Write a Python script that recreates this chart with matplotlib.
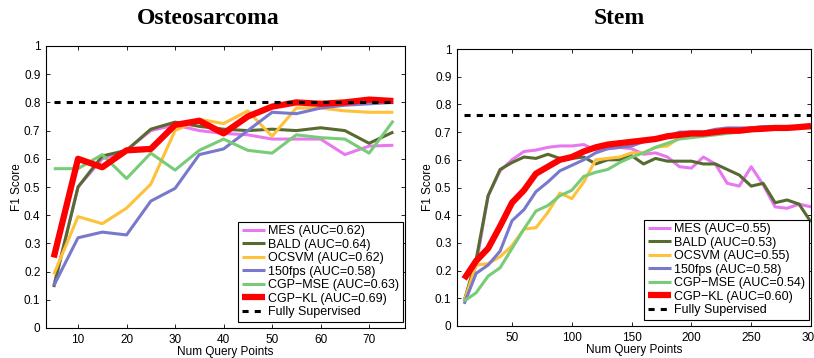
import numpy as np
import matplotlib
matplotlib.use("Agg")
import matplotlib.pyplot as plt

plt.rcParams['font.family'] = ['Liberation Sans', 'DejaVu Sans']

# ---- data ----
x_osteo = [5, 10, 15, 20, 25, 30, 35, 40, 45, 50, 55, 60, 65, 70, 75]
osteo = {
    'MES': [0.15, 0.50, 0.60, 0.63, 0.70, 0.72, 0.70, 0.69, 0.685, 0.67, 0.67, 0.67, 0.615, 0.645, 0.648],
    'BALD': [0.145, 0.50, 0.61, 0.63, 0.705, 0.73, 0.715, 0.705, 0.70, 0.705, 0.70, 0.71, 0.70, 0.655, 0.695],
    'OCSVM': [0.19, 0.395, 0.37, 0.425, 0.51, 0.70, 0.74, 0.725, 0.77, 0.68, 0.78, 0.78, 0.77, 0.765, 0.765],
    '150fps': [0.15, 0.32, 0.34, 0.33, 0.45, 0.495, 0.615, 0.635, 0.70, 0.765, 0.76, 0.78, 0.79, 0.795, 0.80],
    'CGP-MSE': [0.565, 0.565, 0.615, 0.53, 0.62, 0.56, 0.63, 0.67, 0.63, 0.62, 0.685, 0.675, 0.67, 0.62, 0.735],
    'CGP-KL': [0.25, 0.60, 0.57, 0.63, 0.635, 0.72, 0.735, 0.69, 0.75, 0.785, 0.80, 0.795, 0.80, 0.81, 0.805],
}
osteo_auc = {'MES': 0.62, 'BALD': 0.64, 'OCSVM': 0.62, '150fps': 0.58, 'CGP-MSE': 0.63, 'CGP-KL': 0.69}
osteo_full = 0.80

x_stem = list(range(10, 301, 10))
stem = {
    'MES': [0.09, 0.22, 0.47, 0.56, 0.60, 0.63, 0.635, 0.645, 0.65, 0.65, 0.655, 0.635, 0.64, 0.645, 0.64,
            0.62, 0.625, 0.61, 0.575, 0.57, 0.61, 0.585, 0.515, 0.505, 0.575, 0.51, 0.43, 0.425, 0.44, 0.43],
    'BALD': [0.09, 0.24, 0.47, 0.565, 0.59, 0.61, 0.605, 0.62, 0.605, 0.605, 0.61, 0.585, 0.60, 0.60, 0.615,
             0.585, 0.605, 0.595, 0.595, 0.595, 0.585, 0.585, 0.565, 0.545, 0.505, 0.515, 0.445, 0.455, 0.44, 0.375],
    'OCSVM': [0.09, 0.22, 0.225, 0.25, 0.29, 0.35, 0.355, 0.41, 0.48, 0.46, 0.52, 0.60, 0.605, 0.61, 0.625,
              0.625, 0.645, 0.65, 0.68, 0.69, 0.695, 0.705, 0.71, 0.71, 0.715, 0.72, 0.72, 0.72, 0.72, 0.72],
    '150fps': [0.08, 0.19, 0.22, 0.27, 0.38, 0.42, 0.485, 0.52, 0.56, 0.58, 0.60, 0.625, 0.64, 0.645, 0.65,
               0.665, 0.675, 0.685, 0.70, 0.70, 0.70, 0.71, 0.715, 0.715, 0.715, 0.72, 0.72, 0.72, 0.72, 0.72],
    'CGP-MSE': [0.09, 0.12, 0.18, 0.21, 0.28, 0.35, 0.415, 0.435, 0.47, 0.49, 0.54, 0.555, 0.565, 0.59, 0.61,
                0.625, 0.645, 0.66, 0.675, 0.68, 0.685, 0.69, 0.695, 0.70, 0.705, 0.71, 0.71, 0.715, 0.715, 0.715],
    'CGP-KL': [0.17, 0.235, 0.28, 0.36, 0.445, 0.49, 0.55, 0.575, 0.60, 0.61, 0.63, 0.645, 0.655, 0.66, 0.665,
               0.67, 0.675, 0.685, 0.69, 0.695, 0.695, 0.70, 0.705, 0.705, 0.71, 0.712, 0.715, 0.715, 0.718, 0.722],
}
stem_auc = {'MES': 0.55, 'BALD': 0.53, 'OCSVM': 0.55, '150fps': 0.58, 'CGP-MSE': 0.54, 'CGP-KL': 0.60}
stem_full = 0.76

methods = ['MES', 'BALD', 'OCSVM', '150fps', 'CGP-MSE', 'CGP-KL']
colors = {'MES': '#E878F0', 'BALD': '#566B2F', 'OCSVM': '#FFC03A', '150fps': '#7878CC',
          'CGP-MSE': '#78CC78', 'CGP-KL': '#FF0000'}
widths = {m: 2.2 for m in methods}
widths['CGP-KL'] = 4.5

W, H = 814, 358
fig = plt.figure(figsize=(W / 100, H / 100), dpi=100)


def panel(box, x, data, auc, full, xlim, xticks, title, title_x):
    x0, y0, x1, y1 = box  # pixel box, top-left origin
    ax = fig.add_axes([x0 / W, 1 - y1 / H, (x1 - x0) / W, (y1 - y0) / H])
    for m in methods:
        ax.plot(x, data[m], color=colors[m], lw=widths[m],
                label=f'{m.replace("-", "\u2212")} (AUC={auc[m]:.2f})', solid_capstyle='butt')
    ax.plot([x[0], x[-1]], [full, full], 'k--', lw=2.2, dashes=(2, 2),
            label='Fully Supervised')
    ax.set_xlim(*xlim)
    ax.set_ylim(0, 1)
    ax.set_xticks(xticks)
    ax.set_yticks(np.arange(0, 1.01, 0.1))
    ax.set_yticklabels(['0'] + [f'{v:.1f}' for v in np.arange(0.1, 0.95, 0.1)] + ['1'])
    ax.tick_params(direction='in', top=True, right=True, labelsize=8.5, length=3, width=0.6, pad=4)
    for s in ax.spines.values():
        s.set_linewidth(0.8)
    ax.set_xlabel('Num Query Points', fontsize=8.5, labelpad=0)
    ax.set_ylabel('F1 Score', fontsize=8.5, labelpad=1)
    pw, ph = x1 - x0, y1 - y0
    leg = ax.legend(loc='lower right', bbox_to_anchor=(1 - 2 / pw, 6 / ph), fontsize=9,
                    handlelength=1.8, handletextpad=0.3, labelspacing=0.12, borderpad=0.3,
                    borderaxespad=0, fancybox=False, framealpha=1, edgecolor='black')
    leg.get_frame().set_linewidth(0.8)
    fig.text(title_x / W, 1 - 19 / H, title, ha='center', va='center',
             fontsize=17, fontweight='bold', family='Liberation Serif')
    return ax


panel((46, 46, 405, 328), x_osteo, osteo, osteo_auc, osteo_full,
      (3.4, 77.4), [10, 20, 30, 40, 50, 60, 70], 'Osteosarcoma', 208)
panel((457, 49, 811, 326), x_stem, stem, stem_auc, stem_full,
      (4, 300), [50, 100, 150, 200, 250, 300], 'Stem', 619)

fig.savefig('out.png', dpi=100)
